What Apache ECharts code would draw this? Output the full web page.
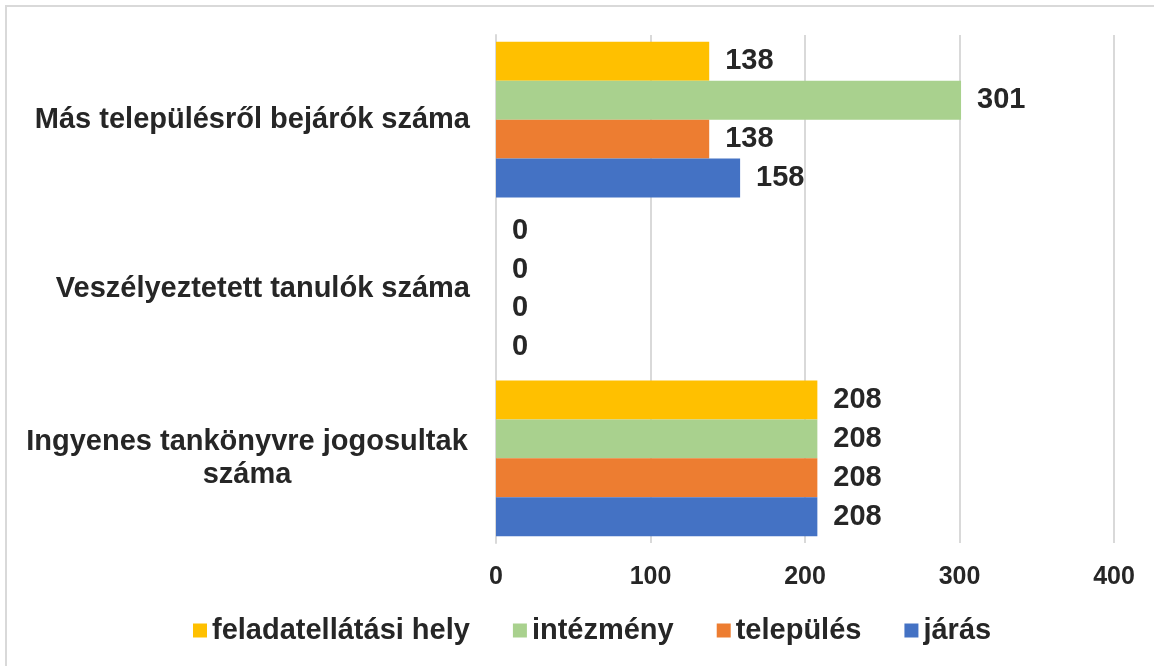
<!DOCTYPE html>
<html lang="hu">
<head>
	<meta charset="UTF-8">
	<style>
		html, body { margin: 0; padding: 0; background: #fff; }
		#frame { position: absolute; left: 5px; top: 5px; width: 1160px; height: 680px; border: 2px solid #d9d9d9; box-sizing: border-box; }
		#chart { position: absolute; left: 0; top: 0; width: 1154px; height: 666px; }
	</style>
</head>
<body>
<div id="frame"></div>
<div id="chart"></div>

<script src="https://cdn.jsdelivr.net/npm/echarts@6/dist/echarts.min.js"></script>
<script>
  // kategóriák alulról felfelé (ECharts sorrend)
  var categories = ['Ingyenes tankönyvre jogosultak száma', 'Veszélyeztetett tanulók száma', 'Más településről bejárók száma'];
  var jaras = [208, 0, 158];
  var telepules = [208, 0, 138];
  var intezmeny = [208, 0, 301];
  var feladatHely = [208, 0, 138];
  var legendData = ['feladatellátási hely', 'intézmény', 'település', 'járás'];
  var xTicks = [0, 100, 200, 300, 400];

  var txt = '#262626';
  var font = '"Liberation Sans", Arial, sans-serif';

  var chart = echarts.init(document.getElementById('chart'));

  function mkSeries(name, data, color) {
    return {
      name: name,
      type: 'bar',
      data: data,
      barGap: '0%',
      barCategoryGap: '8%',
      itemStyle: { color: color },
      label: {
        show: true,
        position: 'right',
        distance: 16,
        color: txt,
        fontFamily: font,
        fontWeight: 'bold',
        fontSize: 29
      }
    };
  }

  var option = {
    animation: false,
    textStyle: { fontFamily: font },
    grid: { left: 496, right: 40, top: 35, bottom: 123, containLabel: false },
    legend: {
      data: legendData,
      left: 193,
      top: 616,
      padding: 0,
      itemWidth: 14,
      itemHeight: 14,
      itemGap: 43,
      icon: 'rect',
      textStyle: { color: txt, fontSize: 29, fontWeight: 'bold', fontFamily: font }
    },
    xAxis: {
      type: 'value',
      min: xTicks[0],
      max: xTicks[xTicks.length - 1],
      interval: 100,
      axisLine: { show: false },
      axisTick: { show: false },
      splitLine: { lineStyle: { color: '#d9d9d9', width: 2 } },
      axisLabel: { color: txt, fontSize: 25, fontWeight: 'bold', fontFamily: font, margin: 22 }
    },
    yAxis: {
      type: 'category',
      data: categories,
      axisLine: { lineStyle: { color: '#d9d9d9', width: 2 } },
      axisTick: { show: false },
      axisLabel: {
        color: txt,
        fontSize: 29,
        fontWeight: 'bold',
        fontFamily: font,
        margin: 26,
        align: 'right',
        formatter: function (v) {
          if (v.indexOf('Ingyenes') === 0) {
            return '{c|Ingyenes tankönyvre jogosultak}\n{c|száma}';
          }
          return v;
        },
        rich: {
          c: { width: 446, align: 'center', fontSize: 29, fontWeight: 'bold', fontFamily: font, color: txt, lineHeight: 33 }
        }
      }
    },
    // az első sorozat kerül a csoport tetejére
    series: [
      mkSeries('feladatellátási hely', feladatHely, '#FFC000'),
      mkSeries('intézmény', intezmeny, '#A9D18E'),
      mkSeries('település', telepules, '#ED7D31'),
      mkSeries('járás', jaras, '#4472C4')
    ]
  };
  chart.setOption(option);
</script>

</body>
</html>
